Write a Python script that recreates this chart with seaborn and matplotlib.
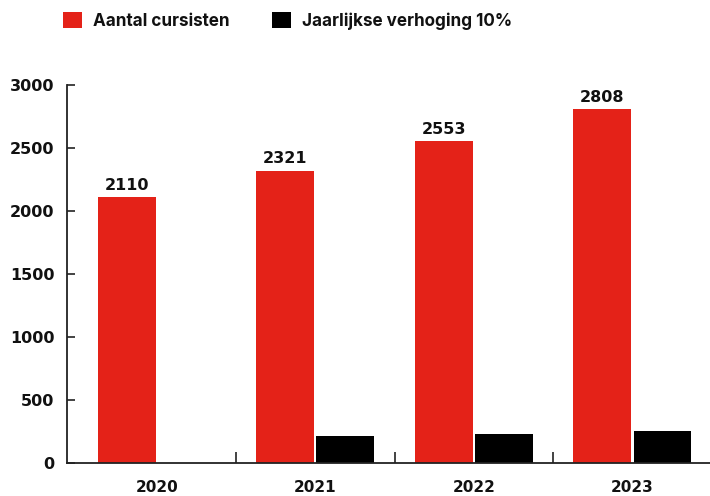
import pandas as pd
import seaborn as sns
import matplotlib.pyplot as plt
from matplotlib.ticker import FixedLocator

years = ['2020', '2021', '2022', '2023']
cursisten = [2110, 2321, 2553, 2808]
verhoging = [0, 211, 232, 255]
series = ['Aantal cursisten', 'Jaarlijkse verhoging 10%']
colors = ['#e42218', '#000000']
yticks = [0, 500, 1000, 1500, 2000, 2500, 3000]


def main():
    df = pd.DataFrame({
        'jaar': years * 2,
        'reeks': [series[0]] * 4 + [series[1]] * 4,
        'waarde': cursisten + verhoging,
    })

    sns.set_style('white')
    plt.rcParams['font.family'] = ['Inter', 'DejaVu Sans']
    plt.rcParams['text.color'] = '#111111'
    plt.rcParams['xtick.color'] = '#111111'
    plt.rcParams['ytick.color'] = '#111111'

    fig = plt.figure(figsize=(7.1, 4.96), dpi=100)
    ax = fig.add_axes([67 / 710, 33 / 496, 643 / 710, 378 / 496])

    sns.barplot(data=df, x='jaar', y='waarde', hue='reeks', palette=colors,
                saturation=1, linewidth=0, width=0.76, gap=0.04, ax=ax, legend=True)

    # value labels on the red bars
    ax.bar_label(ax.containers[0], padding=3, fontsize=11.5, fontweight='bold',
                 fontfamily='DejaVu Sans')

    ax.set_xlim(-0.566, 3.49)
    ax.set_ylim(0, 3000)
    ax.set_yticks(yticks)
    ax.set_xlabel('')
    ax.set_ylabel('')

    for s in ['top', 'right']:
        ax.spines[s].set_visible(False)
    for s in ['left', 'bottom']:
        ax.spines[s].set_color('#222222')
        ax.spines[s].set_linewidth(1.3)

    ax.tick_params(axis='y', direction='in', length=6, width=1.2, color='#222222',
                   pad=9, labelsize=11.5, left=True)
    for lab in ax.get_yticklabels():
        lab.set_fontfamily('DejaVu Sans')
        lab.set_fontweight('bold')

    ax.tick_params(axis='x', which='major', length=0, pad=12, labelsize=11)
    ax.xaxis.set_minor_locator(FixedLocator([0.5, 1.5, 2.5]))
    ax.tick_params(axis='x', which='minor', direction='in', length=8, width=1.2,
                   color='#222222', bottom=True)
    for lab in ax.get_xticklabels():
        lab.set_fontfamily('DejaVu Sans')
        lab.set_fontweight('bold')

    ax.legend(loc='upper left', bbox_to_anchor=(63 / 710, 1 - 12 / 496),
              bbox_transform=fig.transFigure, borderpad=0, borderaxespad=0,
              ncol=2, frameon=False, handlelength=1.1, handleheight=1.1,
              handletextpad=0.65, columnspacing=2.5,
              prop={'weight': 'bold', 'size': 12.3})

    plt.savefig('out.png', dpi=100)


if __name__ == '__main__':
    main()
